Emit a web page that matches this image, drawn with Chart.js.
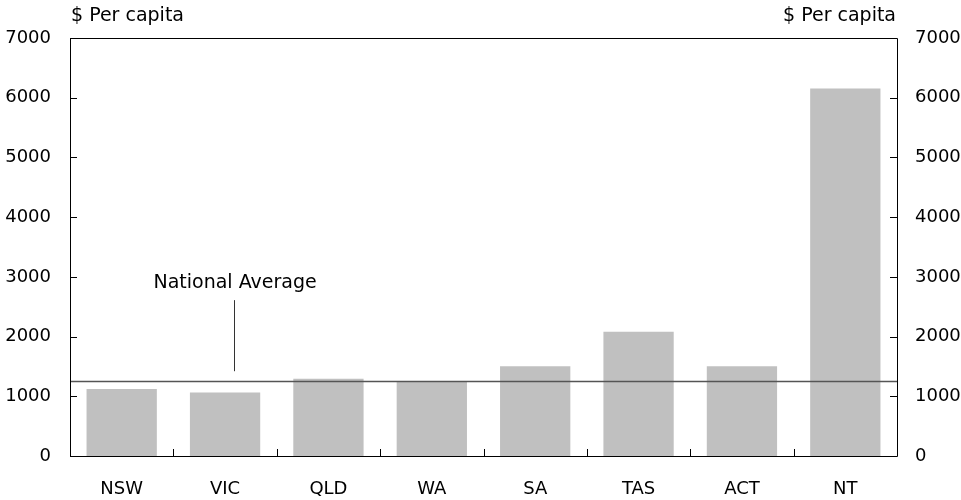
<!DOCTYPE html>
<html>
<head>
<meta charset="utf-8">
<script src="https://cdn.jsdelivr.net/npm/chart.js@4.4.0/dist/chart.umd.min.js"></script>
<style>
  html, body { margin: 0; padding: 0; background: #fff; }
  #wrap { width: 961px; height: 500px; }
</style>
</head>
<body>
<div id="wrap"><canvas id="chart" width="961" height="500"></canvas></div>
<script>
const states = ['NSW', 'VIC', 'QLD', 'WA', 'SA', 'TAS', 'ACT', 'NT'];
const perCapita = [1120, 1065, 1295, 1255, 1505, 2080, 1505, 6155];
const nationalAverage = 1262;
const yTicks = [0, 1000, 2000, 3000, 4000, 5000, 6000, 7000];
const axisTitle = '$ Per capita';
const averageLabel = 'National Average';

const FONT = '"DejaVu Sans", Verdana, sans-serif';
const TITLE_SIZE = 19;
const TICK_SIZE = 18;

// box, inward tick marks, average line and its label
const decorations = {
  id: 'decorations',
  afterDatasetsDraw(chart) {
    const { ctx, chartArea: a, scales } = chart;
    const x = scales.x, y = scales.y;
    ctx.save();

    // national average line
    const ya = Math.round(y.getPixelForValue(nationalAverage)) + 0.5;
    ctx.strokeStyle = '#555';
    ctx.lineWidth = 1.5;
    ctx.beginPath();
    ctx.moveTo(a.left, ya);
    ctx.lineTo(a.right, ya);
    ctx.stroke();

    // frame
    ctx.strokeStyle = '#000';
    ctx.lineWidth = 1;
    ctx.beginPath();
    ctx.moveTo(a.left + 0.5, a.top + 0.5);
    ctx.lineTo(a.right + 0.5, a.top + 0.5);
    ctx.lineTo(a.right + 0.5, a.bottom + 0.5);
    ctx.lineTo(a.left + 0.5, a.bottom + 0.5);
    ctx.closePath();
    ctx.stroke();

    // y ticks, pointing inward on both sides
    ctx.beginPath();
    yTicks.forEach(v => {
      const py = Math.round(y.getPixelForValue(v)) + 0.5;
      ctx.moveTo(a.left, py); ctx.lineTo(a.left + 7, py);
      ctx.moveTo(a.right, py); ctx.lineTo(a.right - 7, py);
    });
    // x ticks between categories
    for (let i = 0; i < states.length - 1; i++) {
      const px = Math.round((x.getPixelForValue(i) + x.getPixelForValue(i + 1)) / 2) + 0.5;
      ctx.moveTo(px, a.bottom); ctx.lineTo(px, a.bottom - 7);
    }
    ctx.stroke();

    // axis titles
    ctx.fillStyle = '#000';
    ctx.font = TITLE_SIZE + 'px ' + FONT;
    ctx.textBaseline = 'middle';
    ctx.textAlign = 'left';
    ctx.fillText(axisTitle, a.left + 1, 16);
    ctx.textAlign = 'right';
    ctx.fillText(axisTitle, a.right - 1, 16);

    // national average callout
    const cx = x.getPixelForValue(1) + 9;
    ctx.textAlign = 'center';
    ctx.fillText(averageLabel, cx + 1, y.getPixelForValue(2900));
    ctx.strokeStyle = '#333';
    ctx.beginPath();
    ctx.moveTo(Math.round(cx) + 0.5, y.getPixelForValue(2610));
    ctx.lineTo(Math.round(cx) + 0.5, y.getPixelForValue(1420));
    ctx.stroke();

    ctx.restore();
  }
};

const tickFont = { family: FONT, size: TICK_SIZE };
const plain = v => String(v);
const noGrid = { display: false, drawTicks: false };

new Chart(document.getElementById('chart'), {
  type: 'bar',
  data: {
    labels: states,
    datasets: [{
      label: 'Per capita',
      data: perCapita,
      backgroundColor: '#c0c0c0',
      borderWidth: 0,
      barPercentage: 0.68,
      categoryPercentage: 1
    }]
  },
  options: {
    responsive: false,
    animation: false,
    layout: { padding: { top: 38, left: 0, right: 0, bottom: 0 } },
    plugins: {
      legend: { display: false },
      tooltip: { enabled: false }
    },
    scales: {
      x: {
        grid: noGrid,
        border: { display: false },
        ticks: { color: '#000', font: tickFont, padding: 23, maxRotation: 0 },
        afterFit: s => { s.height = 44; }
      },
      y: {
        position: 'left',
        min: 0, max: 7000,
        afterBuildTicks: s => { s.ticks = yTicks.map(v => ({ value: v })); },
        grid: noGrid,
        border: { display: false },
        ticks: { color: '#000', font: tickFont, padding: 19, callback: plain },
        afterFit: s => { s.width = 70; }
      },
      y2: {
        position: 'right',
        min: 0, max: 7000,
        afterBuildTicks: s => { s.ticks = yTicks.map(v => ({ value: v })); },
        grid: noGrid,
        border: { display: false },
        ticks: { color: '#000', font: tickFont, padding: 18, callback: plain },
        afterFit: s => { s.width = 64; }
      }
    }
  },
  plugins: [decorations]
});
</script>
</body>
</html>
